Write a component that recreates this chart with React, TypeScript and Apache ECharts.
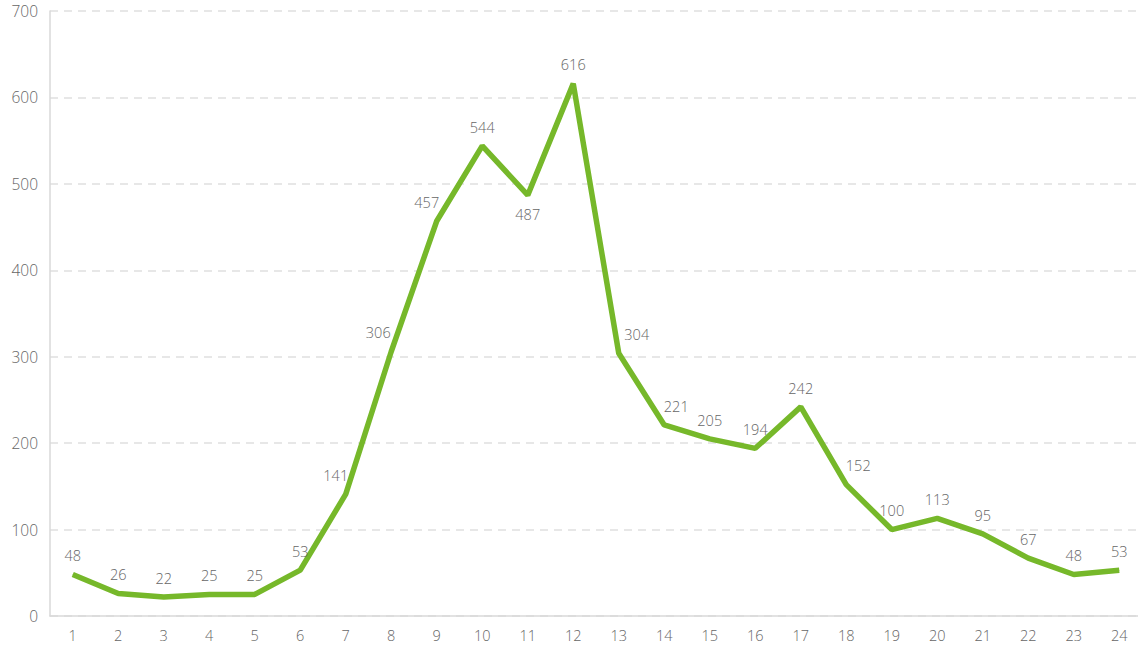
import React, { useEffect, useRef } from "react";
import * as echarts from "echarts";

const categories = ["1","2","3","4","5","6","7","8","9","10","11","12","13","14","15","16","17","18","19","20","21","22","23","24"];
const values = [48, 26, 22, 25, 25, 53, 141, 306, 457, 544, 487, 616, 304, 221, 205, 194, 242, 152, 100, 113, 95, 67, 48, 53];
const yTicks = { min: 0, max: 700, interval: 100 };

// label offsets (by index) for labels that are not straight above the point
const labelOffsets: Record<number, [number, number]> = {
  6: [-10, 0],
  7: [-13, 0],
  8: [-10, 0],
  12: [18, 0],
  13: [12, 0],
  17: [12, 0],
};
const labelBelow = new Set([10]);

export default function App() {
  const ref = useRef<HTMLDivElement>(null);
  useEffect(() => {
    if (!ref.current) return;
    const chart = echarts.init(ref.current, null, { renderer: "svg" });
    const font = "'Open Sans', Lato, sans-serif";
    const data = values.map((v, i) => {
      const item: any = { value: v };
      if (labelBelow.has(i)) {
        item.label = { position: "bottom", distance: 12 };
      } else if (labelOffsets[i]) {
        item.label = { offset: labelOffsets[i] };
      }
      return item;
    });
    chart.setOption({
      animation: false,
      backgroundColor: "#ffffff",
      grid: { left: 50, right: 0, top: 11, bottom: 34, containLabel: false },
      xAxis: [
        {
          type: "category",
          data: categories,
          boundaryGap: true,
          axisLine: { lineStyle: { color: "#d9d9d9", width: 1.5 } },
          axisTick: { alignWithLabel: true, length: 6, lineStyle: { color: "#d9d9d9" } },
          axisLabel: { color: "#666", fontSize: 14.5, fontFamily: font, fontWeight: 300, margin: 12 },
        },
        {
          type: "category",
          data: categories,
          position: "bottom",
          boundaryGap: true,
          axisLine: { show: false },
          axisTick: { inside: true, alignWithLabel: true, length: 6, lineStyle: { color: "#d9d9d9" } },
          axisLabel: { show: false },
        },
      ],
      yAxis: {
        type: "value",
        min: yTicks.min,
        max: yTicks.max,
        interval: yTicks.interval,
        axisLine: { show: true, lineStyle: { color: "#d9d9d9", width: 1.5 } },
        axisTick: { show: false },
        axisLabel: { color: "#666", fontSize: 15.5, fontFamily: font, fontWeight: 300, margin: 12 },
        splitLine: { lineStyle: { color: "#e0e0e0", type: [8, 6], width: 1.5 } },
      },
      series: [
        {
          type: "line",
          data,
          showSymbol: true,
          symbol: "circle",
          symbolSize: 0.5,
          lineStyle: { color: "#76b82a", width: 5.5 },
          itemStyle: { color: "#76b82a" },
          label: {
            show: true,
            position: "top",
            distance: 11,
            color: "#666",
            fontSize: 14.5,
            fontWeight: 300,
            fontFamily: font,
          },
        },
      ],
    });
    return () => chart.dispose();
  }, []);
  return (
    <div style={{ position: "fixed", left: 0, top: 0, width: 1138, height: 650, overflow: "hidden", background: "#fff" }}>
      <div ref={ref} style={{ width: 1142, height: 650 }} />
    </div>
  );
}
